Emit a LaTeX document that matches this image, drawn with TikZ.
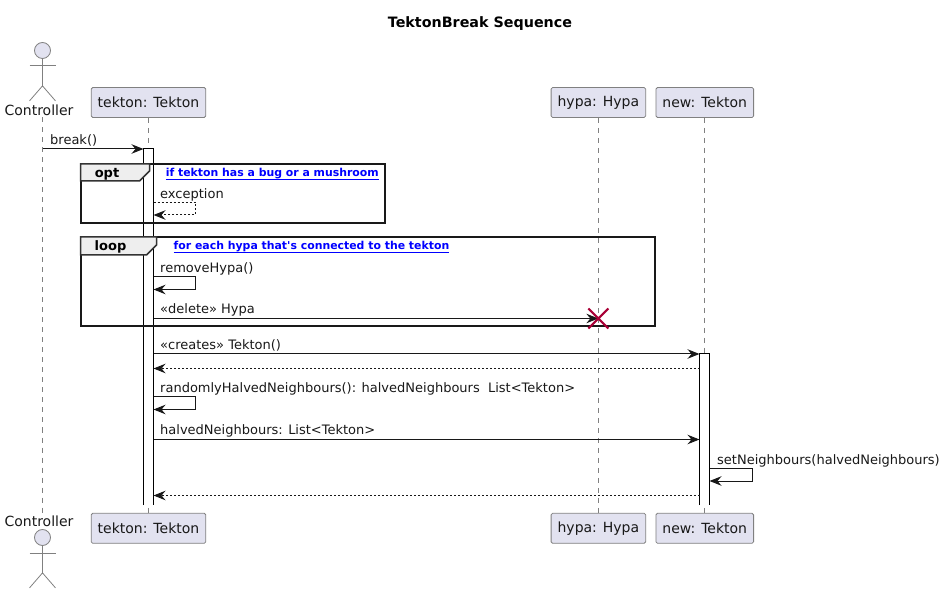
\documentclass[tikz,border=0pt]{standalone}
\usepackage{fontspec}
\setmainfont{DejaVu Sans}
\usetikzlibrary{positioning, arrows.meta}
\definecolor{partfill}{HTML}{E2E2F0}
\definecolor{inkline}{HTML}{181818}
\definecolor{xmark}{HTML}{A80036}
\definecolor{tabfill}{HTML}{EEEEEE}
\tikzset{
  part/.style={draw=inkline!55, line width=0.8pt, fill=partfill, rounded corners=1.5pt, text=inkline,
    font=\fontsize{14}{16}\selectfont, inner xsep=6.5pt, inner ysep=0pt, minimum height=30pt},
  lifeline/.style={draw=inkline!55, line width=0.8pt, dash pattern=on 5pt off 5pt},
  actorline/.style={draw=inkline!55, line width=0.8pt},
  barfill/.style={fill=white, minimum width=10pt, inner sep=0pt, outer sep=0pt, anchor=north},
  barline/.style={draw=black, line width=1pt},
  msg/.style={draw=inkline, line width=1pt, -{Stealth[length=12pt, width=9.5pt, inset=4pt]}},
  ret/.style={msg, dash pattern=on 2pt off 2pt},
  msglabel/.style={font=\fontsize{13}{15}\selectfont, text=inkline, inner sep=0pt, anchor=base west},
  actorlabel/.style={font=\fontsize{14}{16}\selectfont, text=inkline, inner sep=0pt},
  groupbox/.style={draw=black!90, line width=2pt, inner sep=0pt, outer sep=0pt, anchor=north west},
  grouptab/.style={draw=black!80, line width=1.5pt, fill=tabfill},
  grouptitle/.style={font=\fontsize{13}{15}\selectfont\bfseries, text=black, inner sep=0pt},
  grouplink/.style={font=\fontsize{10.9}{13}\selectfont\bfseries, text=blue, inner sep=0pt, anchor=base east},
}
\newcommand{\linkline}[1]{\underline{\smash{#1}\vphantom{\rule[-1pt]{0pt}{1pt}}}}
\begin{document}
\begin{tikzpicture}[x=1pt, y=-1pt, node distance=395pt]
  \useasboundingbox (0,0) rectangle (945,593);
  \node[font=\fontsize{14.3}{16}\selectfont\bfseries, inner sep=0pt] (title) at (480,24) {TektonBreak Sequence};

  % participants
  \node[part] (tekton) at (148.5,102.5) {tekton: Tekton};
  \node[part, right=344.5pt of tekton] (hypa) {hypa: Hypa};
  \node[part, right=9.5pt of hypa] (new) {new: Tekton};
  \node[part, below=of tekton] (tektonend) {tekton: Tekton};
  \node[part, below=of hypa] (hypaend) {hypa: Hypa};
  \node[part, below=of new] (newend) {new: Tekton};

  % actor, top and bottom
  \node[actorlabel] (ctrllabel) at (39,110) {Controller};
  \node[actorlabel] (ctrlendlabel) at (39,521) {Controller};
  \node[circle, actorline, fill=partfill, minimum size=16pt, inner sep=0pt] (head) at (42.5,50.5) {};
  \node[circle, actorline, fill=partfill, minimum size=16pt, inner sep=0pt] (headend) at (42.5,537.5) {};
  \draw[actorline] (head.south) -- ++(0,27) -- ++(-13,15) ++(13,-15) -- ++(13,15);
  \draw[actorline] (head.south) ++(-13,7) -- ++(26,0);
  \draw[actorline] (headend.south) -- ++(0,27) -- ++(-13,15) ++(13,-15) -- ++(13,15);
  \draw[actorline] (headend.south) ++(-13,7) -- ++(26,0);

  % lifelines
  \coordinate (ctrltop) at (42.5,117.5);
  \coordinate (ctrlbot) at (42.5,512.5);
  \draw[lifeline] (ctrltop) -- (ctrlbot);
  \draw[lifeline] (tekton) -- (tektonend);
  \draw[lifeline] (hypa) -- (hypaend);
  \draw[lifeline] (new) -- (newend);

  % activation bars, open at the bottom
  \node[barfill, minimum height=356pt] (tektonbar) at (148.5,149) {};
  \draw[barline] (tektonbar.south west) |- (tektonbar.north east) -- (tektonbar.south east);
  \node[barfill, minimum height=151pt] (newbar) at (704.5,354) {};
  \draw[barline] (newbar.south west) |- (newbar.north east) -- (newbar.south east);

  % groups
  \node[groupbox, minimum width=304pt, minimum height=59pt] (opt) at (80.5,164) {};
  \draw[grouptab] (opt.north west) -- ++(69,0) -- ++(0,7) -- ++(-10,10) -- ++(-59,0) -- cycle;
  \node[grouptitle] (opttitle) at (107,174) {opt};
  \node[grouplink] (optlink) at (379,177) {\linkline{if tekton has a bug or a mushroom}};
  \node[groupbox, minimum width=574pt, minimum height=89.5pt] (loop) at (80.5,237) {};
  \draw[grouptab] (loop.north west) -- ++(76,0) -- ++(0,8) -- ++(-10,10) -- ++(-66,0) -- cycle;
  \node[grouptitle] (looptitle) at (110.5,247) {loop};
  \node[grouplink] (looplink) at (449.5,250) {\linkline{for each hypa that\textquotesingle s connected to the tekton}};

  % messages
  \coordinate (m1) at (0,149);
  \draw[msg] (ctrltop |- m1) -- (tektonbar.west |- m1);
  \node[msglabel] (m1label) at (50,144.8) {break()};
  \coordinate (m2) at (0,202.5);
  \coordinate (m2r) at (195.5,215);
  \draw[ret] (tektonbar.east |- m2) -| (m2r) -- (tektonbar.east |- m2r);
  \node[msglabel] (m2label) at (160,198.3) {exception};
  \coordinate (m3) at (0,277);
  \coordinate (m3r) at (195.5,289.5);
  \draw[msg] (tektonbar.east |- m3) -| (m3r) -- (tektonbar.east |- m3r);
  \node[msglabel] (m3label) at (160,272.5) {removeHypa()};
  \coordinate (m4) at (0,318.5);
  \draw[msg] (tektonbar.east |- m4) -- (hypa |- m4);
  \node[msglabel] (m4label) at (160,313.8) {«delete» Hypa};
  \draw[draw=xmark, line width=2pt] (hypa |- m4) ++(-10,-10) -- ++(20,20) ++(0,-20) -- ++(-20,20);
  \coordinate (m5) at (0,354);
  \draw[msg] (tektonbar.east |- m5) -- (newbar.north west);
  \node[msglabel] (m5label) at (160,349.8) {«creates» Tekton()};
  \coordinate (m6) at (0,368.5);
  \draw[ret] (newbar.west |- m6) -- (tektonbar.east |- m6);
  \coordinate (m7) at (0,397);
  \coordinate (m7r) at (195.5,409.5);
  \draw[msg] (tektonbar.east |- m7) -| (m7r) -- (tektonbar.east |- m7r);
  \node[msglabel] (m7label) at (160,392.8) {randomlyHalvedNeighbours(): halvedNeighbours\ \ List<Tekton>};
  \coordinate (m8) at (0,439.5);
  \draw[msg] (tektonbar.east |- m8) -- (newbar.west |- m8);
  \node[msglabel] (m8label) at (160,434.8) {halvedNeighbours: List<Tekton>};
  \coordinate (m9) at (0,468.5);
  \coordinate (m9r) at (752.5,481);
  \draw[msg] (newbar.east |- m9) -| (m9r) -- (newbar.east |- m9r);
  \node[msglabel] (m9label) at (717,464.8) {setNeighbours(halvedNeighbours)};
  \coordinate (m10) at (0,495.5);
  \draw[ret] (newbar.west |- m10) -- (tektonbar.east |- m10);
\end{tikzpicture}
\end{document}
